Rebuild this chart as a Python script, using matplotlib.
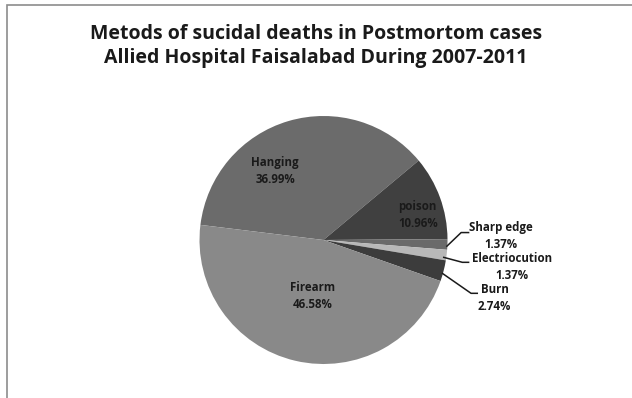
import matplotlib
matplotlib.use("Agg")
import matplotlib.pyplot as plt
from matplotlib.patches import Rectangle

# Data (counts of cases, 73 total)
categories = ["Hanging", "poison", "Sharp edge", "Electriocution", "Burn", "Firearm"]
counts = [27, 8, 1, 1, 2, 34]
pct_labels = ["36.99%", "10.96%", "1.37%", "1.37%", "2.74%", "46.58%"]
colors = ["#6b6b6b", "#404040", "#6a6a6a", "#b8b8b8", "#3c3c3c", "#898989"]

title = "Metods of sucidal deaths in Postmortom cases\nAllied Hospital Faisalabad During 2007-2011"

# Layout (label centres in data units, leader lines)
label_pos = {
    "Hanging": (-0.39, 0.56),
    "poison": (0.76, 0.20),
    "Firearm": (-0.09, -0.45),
    "Sharp edge": (1.43, 0.03),
    "Electriocution": (1.52, -0.22),
    "Burn": (1.38, -0.47),
}
leaders = {
    "Sharp edge": [(0.995, -0.05), (1.11, 0.06), (1.17, 0.06)],
    "Electriocution": [(0.97, -0.14), (1.12, -0.18), (1.17, -0.18)],
    "Burn": [(0.96, -0.27), (1.19, -0.43), (1.24, -0.43)],
}

W, H = 632, 398
fig = plt.figure(figsize=(W / 100, H / 100), dpi=100)
fig.patch.set_facecolor("white")

font = ["Open Sans", "DejaVu Sans"]

# chart frame
fig.patches.append(Rectangle((7 / W, -0.1), 1.2, (H - 5) / H + 0.1,
                             transform=fig.transFigure, fill=False,
                             edgecolor="#8c8c8c", linewidth=1.2))

cx, cy, r = 323.5, 240, 124
ax = fig.add_axes([(cx - r) / W, (H - cy - r) / H, 2 * r / W, 2 * r / H])
ax.pie(counts, colors=colors, startangle=173, counterclock=False,
       wedgeprops=dict(linewidth=0))
ax.set_xlim(-1, 1)
ax.set_ylim(-1, 1)
ax.set_aspect("equal")
ax.axis("off")

for cat, pct in zip(categories, pct_labels):
    x, y = label_pos[cat]
    ax.text(x, y, f"{cat}\n{pct}", ha="center", va="center", fontsize=8.3,
            fontweight="bold", family=font, color="#1a1a1a",
            linespacing=1.4, clip_on=False)

for cat, pts in leaders.items():
    xs, ys = zip(*pts)
    ax.plot(xs, ys, color="#1a1a1a", linewidth=1.1, clip_on=False)

fig.text(316 / W, 1 - 46 / H, title, ha="center", va="center", fontsize=14,
         fontweight="bold", family=font, color="#1a1a1a", linespacing=1.3)

fig.savefig("out.png", dpi=100)
